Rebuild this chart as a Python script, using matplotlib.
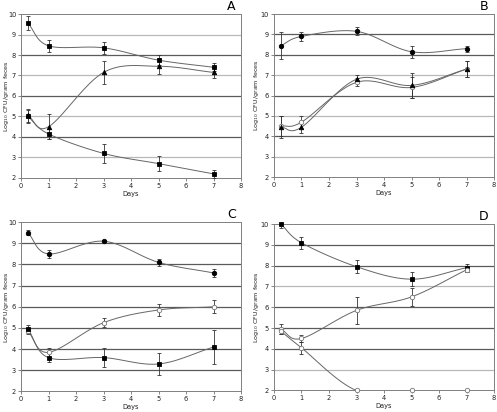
import numpy as np
import matplotlib
matplotlib.use('Agg')
import matplotlib.pyplot as plt

days = [0.25, 1, 3, 5, 7]

# panel A
a_top = [9.55, 8.45, 8.35, 7.75, 7.4]
a_top_err = [0.35, 0.3, 0.28, 0.25, 0.2]
a_tri = [5.05, 4.5, 7.15, 7.45, 7.15]
a_tri_err = [0.3, 0.6, 0.55, 0.4, 0.25]
a_low = [5.0, 4.15, 3.2, 2.7, 2.2]
a_low_err = [0.3, 0.25, 0.45, 0.35, 0.2]

# panel B
b_top = [8.45, 8.9, 9.15, 8.15, 8.3]
b_top_err = [0.65, 0.2, 0.2, 0.3, 0.15]
b_tri = [4.45, 4.45, 6.8, 6.5, 7.3]
b_tri_err = [0.55, 0.3, 0.2, 0.6, 0.4]
b_open = [4.5, 4.7, 6.65, 6.4, 7.3]
b_open_err = [0.5, 0.3, 0.2, 0.5, 0.4]

# panel C
c_top = [9.5, 8.5, 9.1, 8.1, 7.6]
c_top_err = [0.12, 0.2, 0.05, 0.15, 0.2]
c_open = [4.85, 3.85, 5.25, 5.85, 6.0]
c_open_err = [0.15, 0.2, 0.2, 0.3, 0.3]
c_low = [4.95, 3.6, 3.6, 3.3, 4.1]
c_low_err = [0.2, 0.2, 0.45, 0.5, 0.8]

# panel D
d_top = [10.0, 9.1, 7.95, 7.35, 7.9]
d_top_err = [0.2, 0.3, 0.3, 0.35, 0.2]
d_open = [4.95, 4.5, 5.85, 6.5, 7.8]
d_open_err = [0.25, 0.15, 0.65, 0.45, 0.1]
d_low = [4.85, 4.05, 2.0, 2.0, 2.0]
d_low_err = [0.15, 0.3, 0.0, 0.0, 0.0]


def smooth(x, y, n=30):
    # Catmull-Rom style curve, like Excel's smoothed line
    x = np.asarray(x, float); y = np.asarray(y, float)
    px = np.concatenate([[2*x[0]-x[1]], x, [2*x[-1]-x[-2]]])
    py = np.concatenate([[2*y[0]-y[1]], y, [2*y[-1]-y[-2]]])
    xs = []; ys = []
    t = np.linspace(0, 1, n)
    for i in range(1, len(px)-2):
        for p, out in ((px, xs), (py, ys)):
            p0, p1, p2, p3 = p[i-1], p[i], p[i+1], p[i+2]
            out.extend(0.5*((2*p1) + (-p0+p2)*t + (2*p0-5*p1+4*p2-p3)*t**2
                            + (-p0+3*p1-3*p2+p3)*t**3))
    return xs, ys


def series(ax, y, err, marker, face, size=3.2):
    xs, ys = smooth(days, y)
    ax.plot(xs, ys, color='#666666', lw=0.7, zorder=3)
    ax.errorbar(days, y, yerr=err, fmt='none', ecolor='#333333', elinewidth=0.6,
                capsize=1.2, capthick=0.6, zorder=4)
    ax.plot(days, y, linestyle='none', marker=marker, ms=size, mfc=face,
            mec='black' if face == 'black' else '#777777', mew=0.6, zorder=5,
            clip_on=False)


def setup(ax, letter, light, lx):
    ax.set_xlim(0, 8)
    ax.set_ylim(2, 10)
    ax.set_xticks(range(0, 9))
    ax.set_yticks(range(2, 11))
    for v in range(3, 10):
        ax.axhline(v, color='#b8b8b8' if v in light else '#5a5a5a', lw=0.9, zorder=1)
    for s in ax.spines.values():
        s.set_color('#808080')
        s.set_linewidth(0.7)
    ax.tick_params(labelsize=4.8, length=2, width=0.5, color='#555555', pad=1.5,
                   labelcolor='#222222')
    ax.set_xlabel('Days', fontsize=4.8, labelpad=1.5, color='#222222')
    ax.set_ylabel('Log$_{10}$ CFU/gram feces', fontsize=4.6, color='#222222')
    ax.yaxis.set_label_coords(lx, 0.5)
    ax.text(0.975, 1.005, letter, transform=ax.transAxes, ha='right', va='bottom', fontsize=9)


fig = plt.figure(figsize=(4.97, 4.12), dpi=100)
axA = fig.add_axes([0.0423, 0.568, 0.4427, 0.398])
axB = fig.add_axes([0.5513, 0.570, 0.4427, 0.396])
axC = fig.add_axes([0.0423, 0.0498, 0.4427, 0.411])
axD = fig.add_axes([0.5513, 0.0522, 0.4427, 0.404])

setup(axA, 'A', {3, 5, 7, 9}, -0.047)
series(axA, a_top, a_top_err, 's', 'black')
series(axA, a_tri, a_tri_err, '^', 'black')
series(axA, a_low, a_low_err, 's', 'black')

setup(axB, 'B', {3, 5, 7}, -0.06)
series(axB, b_top, b_top_err, 'o', 'black')
series(axB, b_open, b_open_err, 'o', 'white')
series(axB, b_tri, b_tri_err, '^', 'black')

setup(axC, 'C', set(), -0.047)
series(axC, c_top, c_top_err, 'o', 'black')
series(axC, c_open, c_open_err, 'o', 'white')
series(axC, c_low, c_low_err, 's', 'black')

setup(axD, 'D', {3, 7}, -0.06)
series(axD, d_top, d_top_err, 's', 'black')
series(axD, d_open, d_open_err, 'o', 'white')
series(axD, d_low, d_low_err, 'o', 'white')

fig.savefig('out.png', dpi=100)
